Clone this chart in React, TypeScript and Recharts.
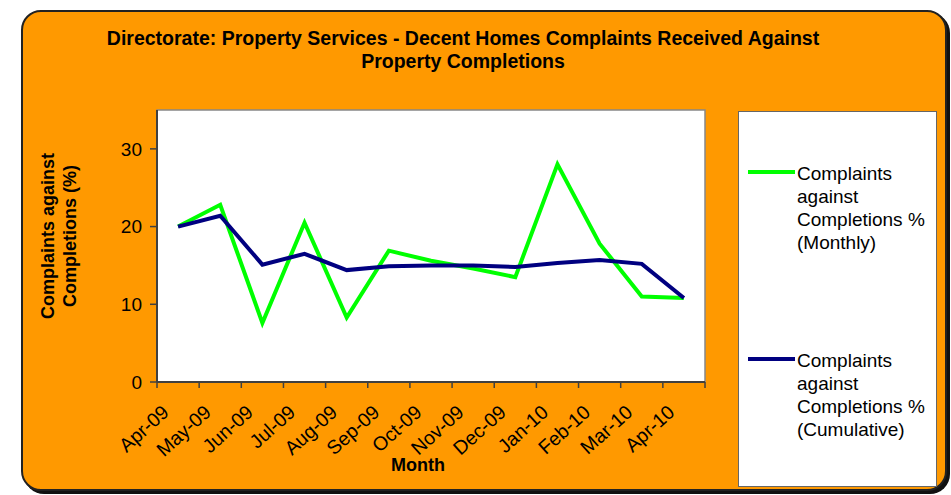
import React from 'react';
import { LineChart, Line, XAxis, YAxis, ReferenceArea, Legend } from 'recharts';

const months = ['Apr-09', 'May-09', 'Jun-09', 'Jul-09', 'Aug-09', 'Sep-09', 'Oct-09', 'Nov-09', 'Dec-09', 'Jan-10', 'Feb-10', 'Mar-10', 'Apr-10'];
const monthly = [20, 22.8, 7.6, 20.5, 8.3, 16.9, 15.6, 14.6, 13.5, 28.0, 17.8, 11.0, 10.8];
const cumulative = [20, 21.4, 15.1, 16.5, 14.4, 14.9, 15.0, 15.0, 14.8, 15.3, 15.7, 15.2, 10.8];
const yTicks = [0, 10, 20, 30];
const monthlyName = 'Complaints against Completions % (Monthly)';
const cumulativeName = 'Complaints against Completions % (Cumulative)';
const titleLines = ['Directorate: Property Services - Decent Homes Complaints Received Against', 'Property Completions'];
const yLabelLines = ['Complaints against', 'Completions (%)'];
const xLabel = 'Month';

const data = months.map((m, i) => ({ pos: i + 0.5, month: m, monthly: monthly[i], cumulative: cumulative[i] }));
const xTicks: number[] = [];
for (let i = 0; i <= months.length * 2; i++) xTicks.push(i / 2);

const FONT = "'Liberation Sans', Arial, sans-serif";

const XTick = (props: any) => {
  const { x, y, payload } = props;
  const v = payload.value as number;
  if (Number.isInteger(v)) {
    return <line x1={x} x2={x} y1={y} y2={y + 6} stroke="#404040" strokeWidth={1.5} />;
  }
  const label = months[Math.floor(v)];
  const ax = x - 8;
  const ay = y + 32;
  return (
    <text x={ax} y={ay} textAnchor="end" fontSize={19.5} fontFamily={FONT} fill="#000"
      transform={`rotate(-42 ${ax} ${ay})`}>{label}</text>
  );
};

const YLabel = (props: any) => {
  const { viewBox } = props;
  const cy = viewBox.y + viewBox.height / 2 - 10;
  return (
    <g>
      {yLabelLines.map((l, i) => (
        <text key={i} x={0} y={0} transform={`translate(${54 + i * 22} ${cy}) rotate(-90)`} textAnchor="middle"
          fontSize={18} fontWeight="bold" fontFamily={FONT} fill="#000">{l}</text>
      ))}
    </g>
  );
};

const XLabel = () => (
  <text x={418} y={471} textAnchor="middle" fontSize={18} fontWeight="bold" fontFamily={FONT} fill="#000">{xLabel}</text>
);

const LegendContent = (props: any) => {
  const { payload } = props;
  return (
    <div style={{ width: 197, height: 374, background: '#fff', border: '1px solid #666', boxSizing: 'content-box', position: 'relative', fontFamily: FONT }}>
      {payload.map((p: any, i: number) => (
        <div key={i} style={{ position: 'absolute', left: 9, top: 50 + i * 187, display: 'flex', alignItems: 'flex-start' }}>
          <div style={{ width: 47, height: 4, background: p.color, marginTop: 8 }} />
          <div style={{ width: 145, fontSize: 19, lineHeight: '23px', color: '#000', marginLeft: 2 }}>{p.value}</div>
        </div>
      ))}
    </div>
  );
};

const seriesOrder = ['monthly', 'cumulative'];

export default function App() {
  return (
    <div style={{ position: 'absolute', left: 0, top: 0, width: 951, height: 495, overflow: 'hidden', fontFamily: FONT }}>
      <div style={{ position: 'absolute', left: 21, top: 10, width: 926, height: 481, background: '#FF9900', border: '2px solid #222', borderRadius: 20, boxShadow: '3px 3px 0 #111', boxSizing: 'border-box' }} />
      <div style={{ position: 'absolute', left: 40, top: 27, width: 846, textAlign: 'center', fontWeight: 'bold', fontSize: 19.5, lineHeight: '23px', color: '#000' }}>
        {titleLines.map((t, i) => <div key={i}>{t}</div>)}
      </div>
      <div style={{ position: 'absolute', left: 0, top: 0 }}>
        <LineChart width={951} height={495} data={data} margin={{ top: 110, right: 246, bottom: 83, left: 97 }}>
          <ReferenceArea y1={0} y2={35} fill="#fff" fillOpacity={1} stroke="#888" strokeWidth={1.5} ifOverflow="visible" />
          <XAxis dataKey="pos" type="number" domain={[0, months.length]} ticks={xTicks} interval={0}
            tick={<XTick />} tickLine={false} tickSize={0} tickMargin={0} height={30}
            axisLine={{ stroke: '#404040', strokeWidth: 2 }}
            label={{ content: <XLabel /> }} />
          <YAxis type="number" domain={[0, 35]} ticks={yTicks} width={60} tickSize={7} tickMargin={8}
            tick={{ fontSize: 19, fill: '#000', fontFamily: FONT }}
            tickLine={{ stroke: '#404040', strokeWidth: 1.5 }}
            axisLine={{ stroke: '#404040', strokeWidth: 2 }}
            label={{ content: <YLabel /> }} />
          <Legend layout="vertical" align="center" verticalAlign="middle" content={<LegendContent />}
            itemSorter={(item: any) => seriesOrder.indexOf(item.dataKey)}
            wrapperStyle={{ left: 738, top: 111, width: 199, height: 376 }} />
          <Line dataKey="monthly" name={monthlyName} stroke="#00FF00" strokeWidth={4} dot={false} isAnimationActive={false} />
          <Line dataKey="cumulative" name={cumulativeName} stroke="#000080" strokeWidth={4} dot={false} isAnimationActive={false} />
        </LineChart>
      </div>
    </div>
  );
}
